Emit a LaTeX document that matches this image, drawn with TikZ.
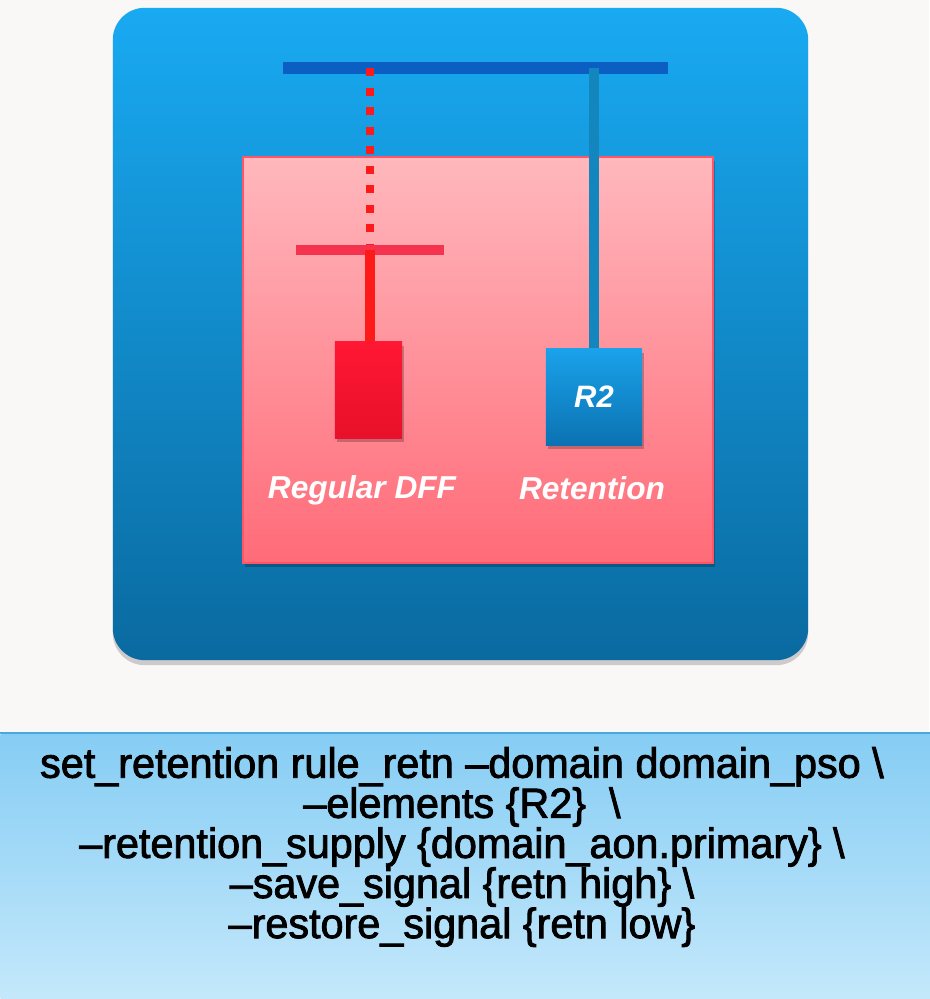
\documentclass[tikz,border=0pt]{standalone}
\usepackage{fontspec}
\setmainfont{Liberation Sans}
\newfontfamily\codefont[FakeBold=2,FakeStretch=0.98]{Liberation Sans}
\usetikzlibrary{shadows}
\definecolor{bgpale}{HTML}{FAF7F7}
\definecolor{outertop}{HTML}{19AAF2}
\definecolor{outerbot}{HTML}{0A6AA0}
\definecolor{busblue}{HTML}{0B5FC2}
\definecolor{pinktop}{HTML}{FFB8BD}
\definecolor{pinkbot}{HTML}{FF6B78}
\definecolor{pinkedge}{HTML}{FF5565}
\definecolor{dotred}{HTML}{FF1A1A}
\definecolor{barred}{HTML}{F5334F}
\definecolor{dfftop}{HTML}{FF1733}
\definecolor{dffbot}{HTML}{E8102A}
\definecolor{vblue}{HTML}{1387BD}
\definecolor{rtop}{HTML}{1AA2EA}
\definecolor{rbot}{HTML}{0B72B2}
\definecolor{paneltop}{HTML}{86CDF4}
\definecolor{panelbot}{HTML}{C4E8FB}
\definecolor{paneledge}{HTML}{4AA8E0}
\tikzset{
  boxshadow/.style={drop shadow={shadow xshift=0.02cm,shadow yshift=-0.04cm,opacity=0.22,fill=black}},
  cellbox/.style={draw=none, inner sep=0pt, boxshadow},
  lbl/.style={text=white, font=\fontsize{9}{10}\selectfont\bfseries\itshape, inner sep=0pt},
  wire/.style={line width=0.09cm},
}
\begin{document}
\begin{tikzpicture}[x=0.01cm,y=0.01cm]
\useasboundingbox (0,0) rectangle (929,999);
\fill[bgpale] (0,0) rectangle (929,999);
% bottom panel
\node[shade, top color=paneltop, bottom color=panelbot, minimum width=9.29cm, minimum height=2.64cm, inner sep=0pt, anchor=south west] (panel) at (0,0) {};
\draw[paneledge, line width=0.6pt] (panel.north west) -- (panel.north east);
% outer domain
\node[shade, top color=outertop, bottom color=outerbot, rounded corners=0.32cm, minimum width=6.95cm, minimum height=6.52cm, inner sep=0pt,
      drop shadow={shadow xshift=0.0cm,shadow yshift=-0.05cm,opacity=0.18,fill=black}] (outer) at (460.5,665) {};
% pso domain
\node[shade, top color=pinktop, bottom color=pinkbot, draw=pinkedge, line width=0.6pt, minimum width=4.70cm, minimum height=4.06cm, inner sep=0pt, boxshadow] (pso) at (478,639) {};
% primary bus
\coordinate (busL) at (283,931);
\coordinate (busR) at (668,931);
\coordinate (tapA) at (370,931);
\coordinate (tapB) at (594,931);
\draw[busblue, line width=0.11cm] (busL) -- (busR);
% regular DFF
\node[cellbox, shade, top color=dfftop, bottom color=dffbot, minimum width=0.67cm, minimum height=0.96cm] (dff) at (368.5,609) {};
\coordinate (barL) at (296,749);
\coordinate (barR) at (444,749);
\coordinate (barC) at (370,749);
\draw[dotred, line width=0.08cm, dash pattern=on 0.08cm off 0.115cm] (tapA) -- (barC);
\draw[barred, line width=0.09cm] (barL) -- (barR);
\draw[dotred, wire] (barC) -- (barC |- dff.north);
% retention R2
\node[cellbox, shade, top color=rtop, bottom color=rbot, minimum width=0.96cm, minimum height=0.96cm, text=white, font=\fontsize{8.8}{10}\selectfont\bfseries\itshape] (r2) at (594,602) {R2};
\draw[vblue, line width=0.10cm] (tapB) -- (r2.north);
% labels
\node[lbl] (lblA) at (362,509) {Regular DFF};
\node[lbl] (lblB) at (592,511) {Retention};
% command text
\node[align=center, font=\codefont\fontsize{12}{11.4}\selectfont, inner sep=0pt, text=black] (cmd) at (462,152) {%
set\_retention rule\_retn –domain domain\_pso \textbackslash\\
–elements \{R2\}\ \ \textbackslash\\
–retention\_supply \{domain\_aon.primary\} \textbackslash\\
–save\_signal \{retn high\} \textbackslash\\
–restore\_signal \{retn low\}};
\end{tikzpicture}
\end{document}
